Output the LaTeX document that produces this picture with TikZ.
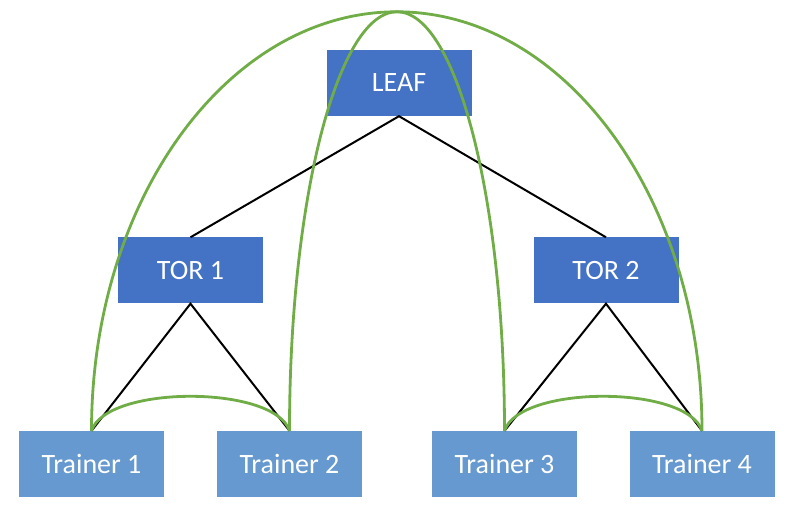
\documentclass[tikz,border=0pt]{standalone}
\usepackage{fontspec}
\setmainfont{Carlito}
\definecolor{switchblue}{HTML}{4472C4}
\definecolor{trainerblue}{HTML}{6699CF}
\definecolor{ringgreen}{HTML}{70AD47}
\begin{document}
\begin{tikzpicture}[x=1pt,y=1pt,
  switchbox/.style={fill=switchblue,text=white,minimum width=145pt,minimum height=66pt,inner sep=0pt,font=\fontsize{28}{33}\selectfont},
  trainerbox/.style={switchbox,fill=trainerblue},
  link/.style={black,line width=2pt},
  ring/.style={ringgreen,line width=2.8pt}]
  \useasboundingbox (0,0) rectangle (803,518);
  % switches and trainers
  \node[switchbox] (leaf) at (399,435) {LEAF};
  \node[switchbox] (tor1) at (190.5,247.5) {TOR 1};
  \node[switchbox] (tor2) at (606,247.5) {TOR 2};
  \node[trainerbox] (t1) at (91.5,54) {Trainer 1};
  \node[trainerbox] (t2) at (289.5,54) {Trainer 2};
  \node[trainerbox] (t3) at (504.5,54) {Trainer 3};
  \node[trainerbox] (t4) at (702,54) {Trainer 4};
  % tree links
  \draw[link] (tor1.north) -- (leaf.south) -- (tor2.north);
  \draw[link] (t1.north) -- (tor1.south) -- (t2.north);
  \draw[link] (t3.north) -- (tor2.south) -- (t4.north);
  % rings
  \draw[ring] (t1.north) arc[start angle=180,end angle=0,x radius=305.25pt,y radius=419pt];
  \draw[ring] (t2.north) arc[start angle=180,end angle=0,x radius=107.5pt,y radius=419pt];
  \draw[ring] (t1.north) .. controls +(15,46) and +(-15,46) .. (t2.north);
  \draw[ring] (t3.north) .. controls +(15,46) and +(-15,46) .. (t4.north);
\end{tikzpicture}
\end{document}
